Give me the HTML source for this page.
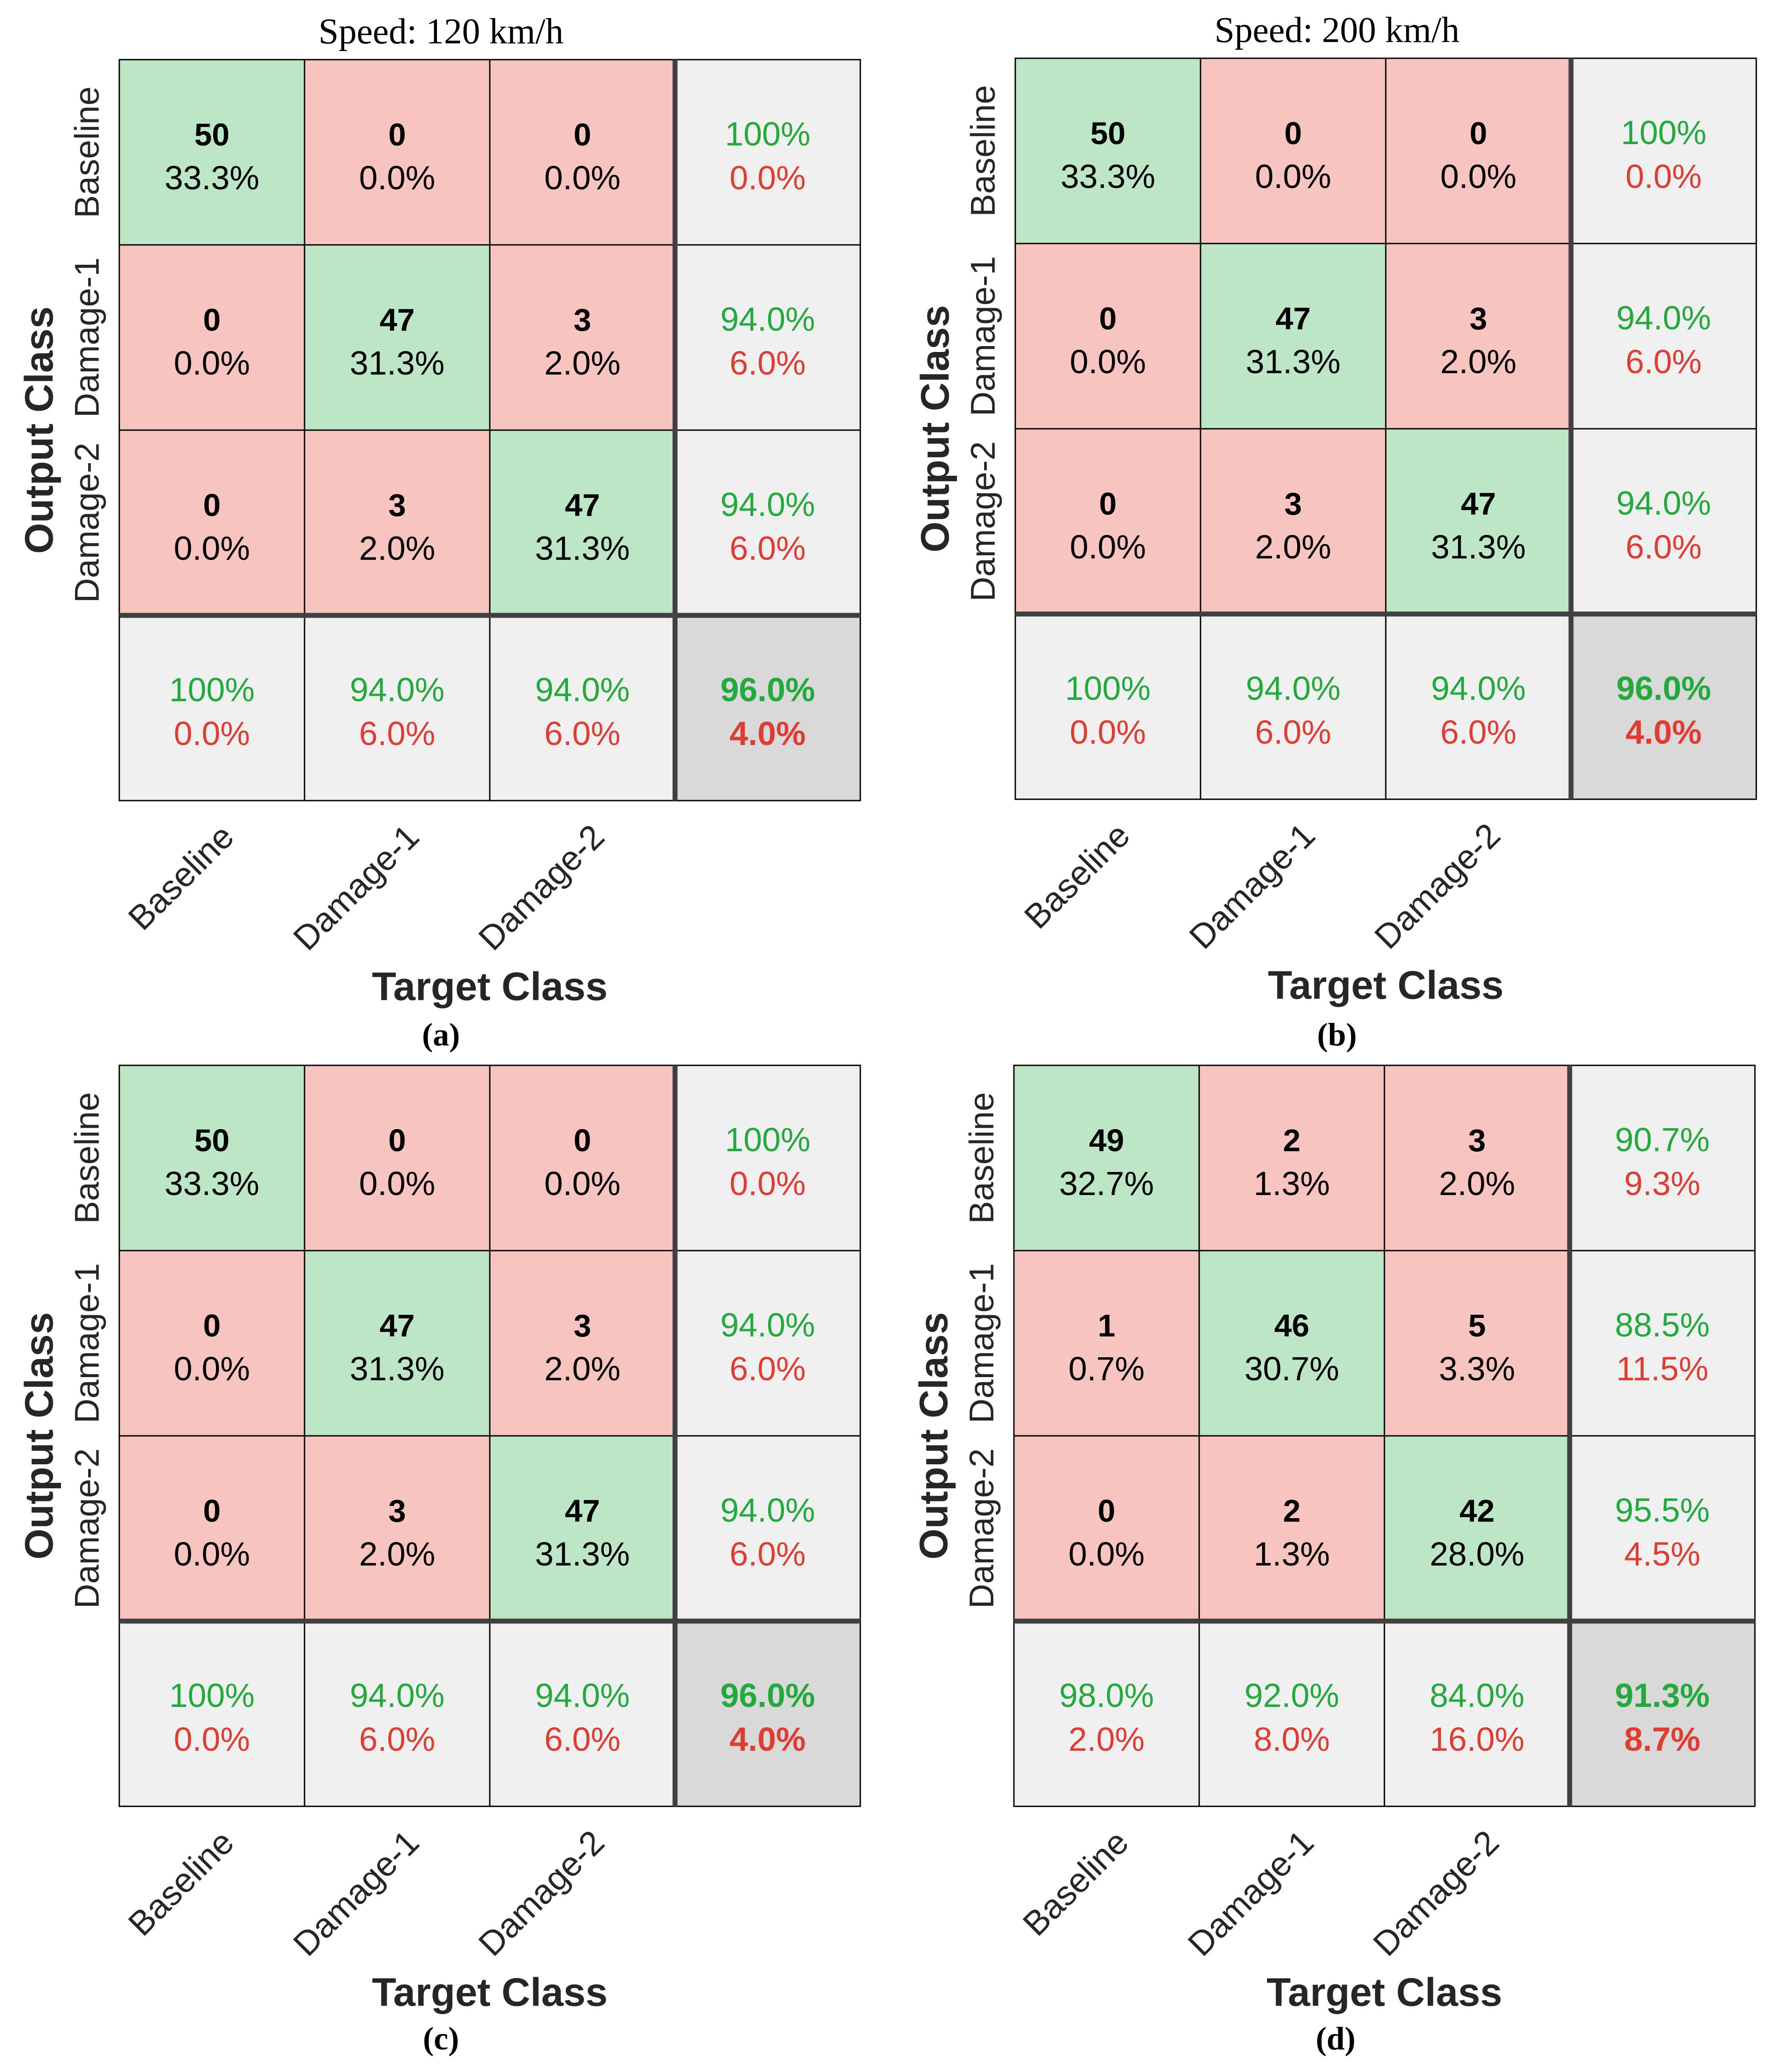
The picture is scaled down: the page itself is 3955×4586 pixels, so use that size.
<!DOCTYPE html>
<html><head><meta charset="utf-8"><style>
html,body{margin:0;padding:0;background:#fff;}
svg{display:block;}
</style></head><body>
<svg id="fig" width="3955" height="4586" viewBox="0 0 3955 4586" xmlns="http://www.w3.org/2000/svg"></svg>
<script>
const classes = ["Baseline", "Damage-1", "Damage-2"];
const countsA = [[50,0,0],[0,47,3],[0,3,47]];
const countsB = [[50,0,0],[0,47,3],[0,3,47]];
const countsC = [[50,0,0],[0,47,3],[0,3,47]];
const countsD = [[49,2,3],[1,46,5],[0,2,42]];
const titles = ["Speed: 120 km/h", "Speed: 200 km/h", "", ""];
const subLabels = ["(a)", "(b)", "(c)", "(d)"];

const NS = "http://www.w3.org/2000/svg";
const svg = document.getElementById("fig");
const CELL = 410;
const panels = [
  {gx:264, gy:132, counts:countsA, key:"a"},
  {gx:2247, gy:129, counts:countsB, key:"b"},
  {gx:264, gy:2358, counts:countsC, key:"c"},
  {gx:2244, gy:2358, counts:countsD, key:"d"}
];
const GREEN_BG="#bde6c6", RED_BG="#f7c4c0", GRAY_BG="#f0f0f0", DARK_BG="#d9d9d9";
const GREEN="#22aa3d", RED="#e03c31";

function mk(tag, attrs, parent){
  const e = document.createElementNS(NS, tag);
  for (const k in attrs) e.setAttribute(k, attrs[k]);
  (parent||svg).appendChild(e);
  return e;
}
function fmt(p){ return (Math.abs(p-100)<1e-9) ? "100%" : p.toFixed(1)+"%"; }

panels.forEach((P, pi) => {
  const g = mk("g", {});
  
  
  const c = P.counts;
  const total = c.flat().reduce((a,b)=>a+b,0);
  const xs = i => P.gx + i*CELL;
  const ys = j => P.gy + j*CELL;
  function txt(x,y,s,opts){
    const t = mk("text", Object.assign({x:x, y:y, "text-anchor":"middle",
      "font-family":"'Liberation Sans', Arial, sans-serif", "font-size":74}, opts||{}), g);
    t.textContent = s;
    return t;
  }
  for (let r=0;r<3;r++){
    for (let k=0;k<3;k++){
      const rect = mk("rect", {x:xs(k), y:ys(r), width:CELL, height:CELL, fill: r===k?GREEN_BG:RED_BG}, g);
      
      
      const t1 = txt(xs(k)+CELL/2, ys(r)+190, String(c[r][k]), {"font-weight":"bold", fill:"#000", "font-size":70});
      
      
      const t2 = txt(xs(k)+CELL/2, ys(r)+287, fmt(100*c[r][k]/total), {fill:"#000"});
      
      
    }
    const rs = c[r].reduce((a,b)=>a+b,0);
    const prec = rs ? 100*c[r][r]/rs : 0;
    const rr = mk("rect", {x:xs(3), y:ys(r), width:CELL, height:CELL, fill:GRAY_BG}, g);
    
    
    const a1 = txt(xs(3)+CELL/2, ys(r)+190, fmt(prec), {fill:GREEN});
    
    
    const a2 = txt(xs(3)+CELL/2, ys(r)+287, fmt(100-prec), {fill:RED});
    
    
  }
  for (let k=0;k<3;k++){
    const cs = c.reduce((a,row)=>a+row[k],0);
    const rec = cs ? 100*c[k][k]/cs : 0;
    const cr = mk("rect", {x:xs(k), y:ys(3), width:CELL, height:CELL, fill:GRAY_BG}, g);
    
    
    const b1 = txt(xs(k)+CELL/2, ys(3)+190, fmt(rec), {fill:GREEN});
    
    
    const b2 = txt(xs(k)+CELL/2, ys(3)+287, fmt(100-rec), {fill:RED});
    
    
  }
  const diag = c[0][0]+c[1][1]+c[2][2];
  const acc = 100*diag/total;
  const ov = mk("rect", {x:xs(3), y:ys(3), width:CELL, height:CELL, fill:DARK_BG}, g);
  
  
  const o1 = txt(xs(3)+CELL/2, ys(3)+190, fmt(acc), {fill:GREEN, "font-weight":"bold"});
  
  
  const o2 = txt(xs(3)+CELL/2, ys(3)+287, fmt(100-acc), {fill:RED, "font-weight":"bold"});
  
  
  for (let i=1;i<=2;i++){
    mk("line", {x1:xs(i), y1:ys(0), x2:xs(i), y2:ys(4), stroke:"#000", "stroke-width":3}, g);
    mk("line", {x1:xs(0), y1:ys(i), x2:xs(4), y2:ys(i), stroke:"#000", "stroke-width":3}, g);
  }
  mk("rect", {x:xs(0), y:ys(0), width:4*CELL, height:4*CELL, fill:"none", stroke:"#000", "stroke-width":3}, g);
  mk("line", {x1:xs(3), y1:ys(0), x2:xs(3), y2:ys(4), stroke:"#404040", "stroke-width":11}, g);
  mk("line", {x1:xs(0), y1:ys(3), x2:xs(4), y2:ys(3), stroke:"#404040", "stroke-width":11}, g);
  classes.forEach((name, j) => {
    const cx = P.gx - 71, cy = ys(j)+CELL/2;
    const t = txt(cx, cy, name, {fill:"#262626", "font-size":76, "dominant-baseline":"central",
      transform:"rotate(-90 "+cx+" "+cy+")"});
    
    
  });
  classes.forEach((name, k) => {
    const ex = xs(k)+CELL/2+53, ey = ys(4)+85;
    const t = txt(ex, ey, name, {fill:"#262626", "font-size":76, "text-anchor":"end",
      transform:"rotate(-45 "+ex+" "+ey+")"});
    
    
  });
  const yl = P.gx-178, ylc = ys(0)+2*CELL;
  const yt = txt(yl, ylc, "Output Class", {fill:"#262626", "font-size":88, "font-weight":"bold",
    "dominant-baseline":"central", transform:"rotate(-90 "+yl+" "+ylc+")"});
  
  
  const xt = txt(P.gx+2*CELL, P.gy+2051, "Target Class", {fill:"#262626", "font-size":88, "font-weight":"bold",
    "dominant-baseline":"central"});
  
  
  if (titles[pi]){
    const tt = txt(P.gx+712, P.gy-36, titles[pi], {fill:"#000", "font-size":80,
      "font-family":"'Liberation Serif', 'Times New Roman', serif"});
    
    
  }
  const ly = pi<2 ? 2314 : 4536;
  const sl = txt(P.gx+712, ly, subLabels[pi], {fill:"#000", "font-size":72, "font-weight":"bold",
    "font-family":"'Liberation Serif', 'Times New Roman', serif"});
  
  
});
</script>
</body></html>
